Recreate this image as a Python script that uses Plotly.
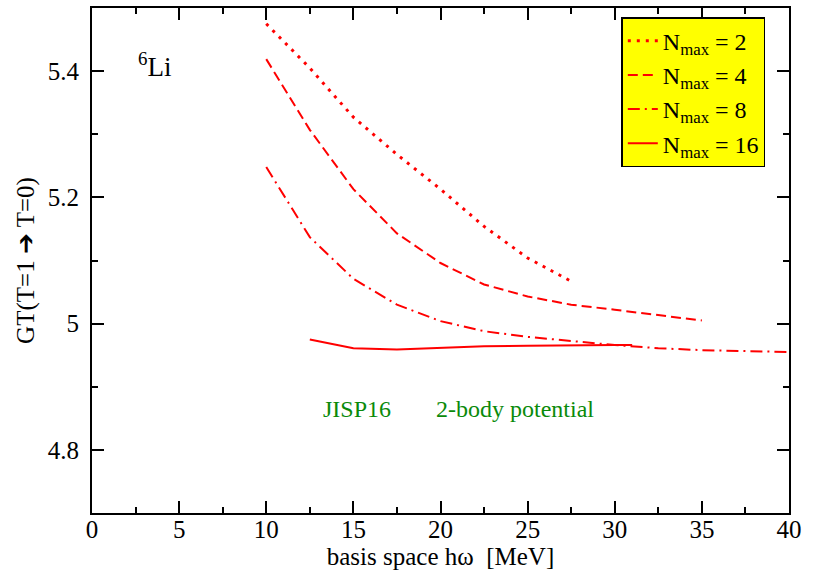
import plotly.graph_objects as go

# Data
x_n2 = [10, 12.5, 15, 17.5, 20, 22.5, 25, 27.5]
y_n2 = [5.475, 5.405, 5.327, 5.268, 5.213, 5.154, 5.104, 5.067]

x_n4 = [10, 12.5, 15, 17.5, 20, 22.5, 25, 27.5, 30, 32.5, 35]
y_n4 = [5.419, 5.307, 5.213, 5.143, 5.096, 5.062, 5.043, 5.030, 5.022, 5.014, 5.005]

x_n8 = [10, 12.5, 15, 17.5, 20, 22.5, 25, 27.5, 30, 32.5, 35, 40]
y_n8 = [5.248, 5.137, 5.071, 5.030, 5.004, 4.988, 4.979, 4.972, 4.966, 4.961, 4.958, 4.955]

x_n16 = [12.5, 15, 17.5, 20, 22.5, 25, 27.5, 30, 31]
y_n16 = [4.975, 4.961, 4.959, 4.962, 4.964, 4.965, 4.966, 4.966, 4.966]

series = [
    ("N<sub>max</sub> = 2", x_n2, y_n2, "3px,6px", 3),
    ("N<sub>max</sub> = 4", x_n4, y_n4, "10px,5px", 2),
    ("N<sub>max</sub> = 8", x_n8, y_n8, "12px,5px,2px,5px", 2),
    ("N<sub>max</sub> = 16", x_n16, y_n16, "solid", 2),
]

RED = "#ff0000"
FONT = "Liberation Serif, Times New Roman, serif"
GREEN = "#0a8a0a"

fig = go.Figure()
for name, xs, ys, dash, w in series:
    fig.add_trace(go.Scatter(x=xs, y=ys, mode="lines", name=name,
                             line=dict(color=RED, dash=dash, width=w)))

axis_common = dict(
    showgrid=False, zeroline=False, showline=True, linecolor="black", linewidth=2,
    mirror="ticks", ticks="inside", ticklen=12, tickwidth=1.5, tickcolor="black",
    tickfont=dict(family=FONT, size=25, color="black"), automargin=False,
)

fig.update_xaxes(range=[0, 40], dtick=5, tick0=0, ticklabelstandoff=-7,
                 minor=dict(ticks="inside", ticklen=6, dtick=2.5, tickcolor="black", tickwidth=1.5),
                 title=dict(text="basis space hω&nbsp;&nbsp;[MeV]", font=dict(family=FONT, size=25, color="black"),
                            standoff=2),
                 **axis_common)
fig.update_yaxes(range=[4.7, 5.5], tickvals=[4.8, 5.0, 5.2, 5.4], ticktext=["4.8", "5", "5.2", "5.4"],
                 ticklabelstandoff=6,
                 minor=dict(ticks="inside", ticklen=6, dtick=0.1, tick0=4.7, tickcolor="black", tickwidth=1.5),
                 title=dict(text="GT(T=1 ➔ T=0)", font=dict(family=FONT, size=25, color="black"),
                            standoff=6),
                 **axis_common)

fig.add_annotation(x=3.6, y=5.41, xref="x", yref="y", text="<sup>6</sup>Li", showarrow=False,
                   font=dict(family=FONT, size=27, color="black"))
fig.add_annotation(x=15.2, y=4.864, xref="x", yref="y", text="JISP16", showarrow=False,
                   font=dict(family=FONT, size=24, color=GREEN))
fig.add_annotation(x=24.3, y=4.864, xref="x", yref="y", text="2-body potential", showarrow=False,
                   font=dict(family=FONT, size=24, color=GREEN))

fig.update_layout(
    width=820, height=573,
    margin=dict(l=92, r=31, t=8, b=60, autoexpand=False),
    paper_bgcolor="white", plot_bgcolor="white",
    legend=dict(x=0.966, y=0.982, xanchor="right", yanchor="top",
                bgcolor="#ffff00", bordercolor="black", borderwidth=1.5,
                font=dict(family=FONT, size=24, color="black"),
                itemwidth=30, tracegroupgap=0),
    showlegend=True,
)

fig.write_html("out.html")
